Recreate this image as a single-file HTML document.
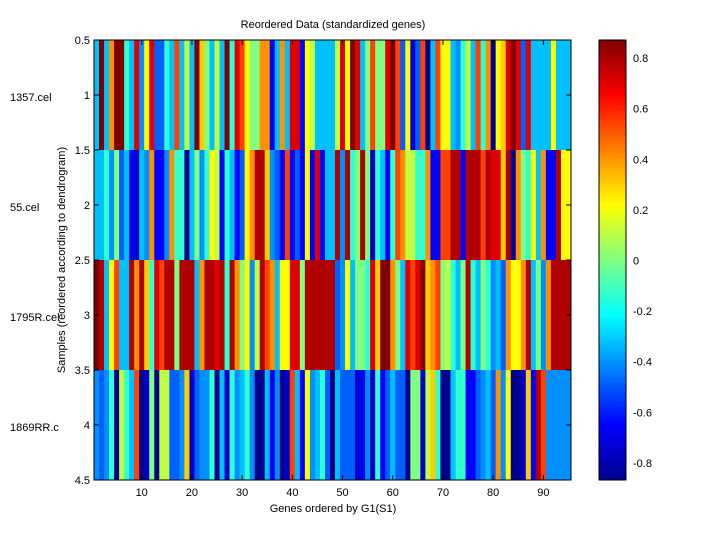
<!DOCTYPE html><html><head><style>body{margin:0;background:#fff}svg{display:block}text{font-family:"Liberation Sans",sans-serif;font-size:11px;fill:#000}</style></head><body>
<svg id="s" width="720" height="540" xmlns="http://www.w3.org/2000/svg">
<defs><linearGradient id="jet" x1="0" y1="1" x2="0" y2="0">
<stop offset="0" stop-color="#00008f"/><stop offset="0.125" stop-color="#0000ff"/><stop offset="0.375" stop-color="#00ffff"/><stop offset="0.625" stop-color="#ffff00"/><stop offset="0.875" stop-color="#ff0000"/><stop offset="1" stop-color="#800000"/></linearGradient></defs>
<rect x="0" y="0" width="720" height="540" fill="#fff"/>
<g id="cells"></g>
<rect x="94" y="40" width="477" height="440" fill="none" stroke="#000" stroke-width="1"/>
<g id="ticks" stroke="#000" stroke-width="1"></g>
<text x="333" y="28" text-anchor="middle">Reordered Data (standardized genes)</text>
<text x="333" y="512" text-anchor="middle">Genes ordered by G1(S1)</text>
<text transform="translate(65,260) rotate(-90)" text-anchor="middle">Samples (reordered according to dendrogram)</text>
<g text-anchor="end">
<text x="90" y="44">0.5</text><text x="90" y="99">1</text><text x="90" y="154">1.5</text><text x="90" y="209">2</text><text x="90" y="264">2.5</text><text x="90" y="319">3</text><text x="90" y="374">3.5</text><text x="90" y="429">4</text><text x="90" y="484">4.5</text></g>
<text x="10" y="101">1357.cel</text><text x="10" y="211">55.cel</text><text x="10" y="321">1795R.cel</text><text x="10" y="431">1869RR.c</text>
<rect x="599" y="40" width="27" height="440" fill="url(#jet)" stroke="#000"/>
<g id="cb"></g>
</svg>
<script>
var P={N:"#00008f",D:"#0000c8",B:"#0000ff",L:"#0060ff",b:"#0090ff",C:"#00c0ff",A:"#30ffd0",G:"#80ff80",Y:"#c0ff40",y:"#ffff00",g:"#ffcc00",O:"#ff9000",o:"#ff4000",R:"#e00000",r:"#b00000",K:"#800000"};
function fix(a,b){a=a.replace(/ /g,"");b=b.replace(/ /g,"");a=(a+"CCCCCCCCCC").slice(0,48);b=(b+"CCCCCCCCCC").slice(1,48);return a+b;}
var rows=[
fix("CKCOKKACRbyRLLACoCYCKgGCYCKARoyGGOOBCOCRRByYCCCC","AYRyKRCGoGGRKoLyDLoNCoyyCbAYCoAONygRKRLRCCCCyCCC"),
fix("CCAbGLCBDCbOBBbOAANCGbAyYBACBLyOrrgbLBoBLByBRBCC","rrbrAGrGDACBAoOYYAAOBBoorrBrrrorRRgrNOGAyCOBBryy"),
fix("KrCyoCCrOrgARorrGrrrCOrrRrArOGybYroOCyyRRGrrrrrr","rLbyCGGARgKKOGCRoRKgOoGYACGrACGAbCLOyyOrCGbOrrrr"),
fix("bLbANYACoNDGNYYLLbgDLbbANCDAbCAbNNCBbNDoCByb CALNDb","BCLLLDBbDABLCLLNGGDYgANNCAABBLbCLObyNNDgBrobbbbb")];
var s="",w=477/95;
rows.forEach(function(r,i){for(var j=0;j<95;j++){s+='<rect x="'+(94+j*w).toFixed(2)+'" y="'+(40+i*110)+'" width="'+(w+0.4).toFixed(2)+'" height="110" fill="'+(P[r[j]]||"#00c0ff")+'"/>';}});
document.getElementById("cells").innerHTML=s;
var t="";
for(var k=10;k<=90;k+=10){var x=94+(k-0.5)*w;t+='<line x1="'+x+'" y1="480" x2="'+x+'" y2="475"/><line x1="'+x+'" y1="40" x2="'+x+'" y2="45"/>';
document.getElementById("s").insertAdjacentHTML("beforeend",'<text x="'+x+'" y="496" text-anchor="middle">'+k+'</text>');}
for(var y=40;y<=480;y+=55){t+='<line x1="94" y1="'+y+'" x2="99" y2="'+y+'"/><line x1="571" y1="'+y+'" x2="566" y2="'+y+'"/>';}
var c="";
[0.8,0.6,0.4,0.2,0,-0.2,-0.4,-0.6,-0.8].forEach(function(v){var y=260.5-v*253;t+='<line x1="599" y1="'+y+'" x2="603" y2="'+y+'"/><line x1="626" y1="'+y+'" x2="622" y2="'+y+'"/>';c+='<text x="633" y="'+(y+4)+'">'+v+'</text>';});
document.getElementById("ticks").innerHTML=t;document.getElementById("cb").innerHTML=c;
</script></body></html>
